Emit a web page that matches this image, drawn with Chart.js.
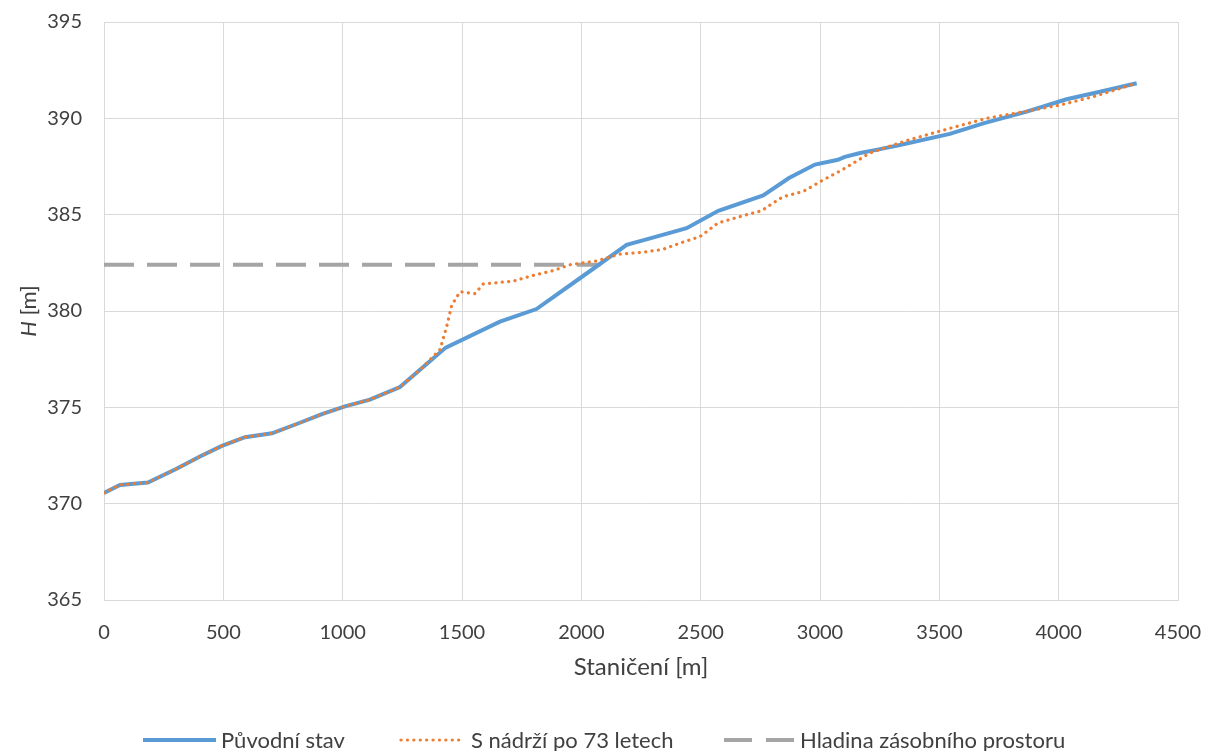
<!DOCTYPE html>
<html>
<head>
<meta charset="utf-8">
<script src="https://cdn.jsdelivr.net/npm/chart.js@4"></script>
<style>
  html, body { margin: 0; padding: 0; background: #fff; }
  #wrap { position: relative; width: 1206px; height: 751px; overflow: hidden; }
  .leg { position: absolute; top: 727px; height: 26px; font: 22px Lato, "Open Sans", sans-serif; color: #404040; line-height: 26px; white-space: nowrap; }
  .leg svg { position: absolute; top: 0; }
  .leg span { position: absolute; top: 0; }
</style>
</head>
<body>
<div id="wrap">
  <canvas id="chart" width="1206" height="751"></canvas>
  <div class="leg" style="left:0">
    <svg style="left:140px" width="80" height="26"><line x1="3" y1="13" x2="76" y2="13" stroke="#5B9BD5" stroke-width="4"/></svg>
    <span style="left:221px">Původní stav</span>
    <svg style="left:398px" width="70" height="26"><line x1="3" y1="13" x2="62" y2="13" stroke="#ED7D31" stroke-width="3.2" stroke-linecap="round" stroke-dasharray="0.1 6.3"/></svg>
    <span style="left:471px">S nádrží po 73 letech</span>
    <svg style="left:722px" width="76" height="26"><line x1="2" y1="13" x2="72" y2="13" stroke="#A5A5A5" stroke-width="4" stroke-dasharray="28 14"/></svg>
    <span style="left:800px">Hladina zásobního prostoru</span>
  </div>
</div>
<script>
// stationing [m] and water level H [m]
const origX = [0, 67, 184, 302, 402, 494, 591, 704, 821, 913, 1010, 1114, 1240, 1324, 1432, 1659, 1812, 1994, 2190, 2288, 2441, 2574, 2762, 2870, 2979, 3075, 3104, 3168, 3252, 3335, 3544, 3684, 3866, 4033, 4173, 4327];
const origH = [370.56, 370.97, 371.1, 371.8, 372.45, 373.0, 373.45, 373.65, 374.2, 374.65, 375.05, 375.4, 376.05, 376.95, 378.1, 379.45, 380.1, 381.7, 383.43, 383.77, 384.3, 385.2, 386.0, 386.9, 387.6, 387.85, 388.0, 388.2, 388.4, 388.62, 389.19, 389.74, 390.35, 390.99, 391.38, 391.82];

const resX = [0, 67, 184, 302, 402, 494, 591, 704, 821, 913, 1010, 1114, 1240, 1324, 1408, 1436, 1457, 1492, 1554, 1589, 1715, 1799, 1883, 1953, 2064, 2161, 2258, 2342, 2420, 2497, 2573, 2693, 2755, 2803, 2845, 2929, 3006, 3096, 3209, 3356, 3544, 3698, 3893, 4006, 4144, 4327];
const resH = [370.56, 370.97, 371.1, 371.8, 372.45, 373.0, 373.45, 373.65, 374.2, 374.65, 375.05, 375.4, 376.05, 376.95, 378.0, 379.2, 380.3, 381.0, 380.9, 381.4, 381.55, 381.85, 382.1, 382.4, 382.6, 382.95, 383.05, 383.2, 383.55, 383.86, 384.57, 385.0, 385.2, 385.6, 385.93, 386.2, 386.75, 387.35, 388.2, 388.82, 389.48, 390.0, 390.43, 390.69, 391.12, 391.82];

const levelX = [0, 2080];
const levelH = [382.4, 382.4];

const toPoints = (xs, ys) => xs.map((x, i) => ({ x: x, y: ys[i] }));

const FONT = 'Lato, "Open Sans", sans-serif';
const TEXT = '#404040';

// y axis title with italic H
const yTitle = {
  id: 'yTitle',
  afterDraw(chart) {
    const ctx = chart.ctx;
    const area = chart.chartArea;
    ctx.save();
    ctx.translate(29, (area.top + area.bottom) / 2);
    ctx.rotate(-Math.PI / 2);
    ctx.fillStyle = TEXT;
    ctx.textBaseline = 'middle';
    ctx.textAlign = 'left';
    ctx.font = 'italic 22px ' + FONT;
    const w1 = ctx.measureText('H').width;
    ctx.font = '22px ' + FONT;
    const w2 = ctx.measureText(' [m]').width;
    const x = -(w1 + w2) / 2;
    ctx.font = 'italic 22px ' + FONT;
    ctx.fillText('H', x, 0);
    ctx.font = '22px ' + FONT;
    ctx.fillText(' [m]', x + w1, 0);
    ctx.restore();
  }
};

new Chart(document.getElementById('chart'), {
  type: 'line',
  data: {
    datasets: [
      {
        label: 'Původní stav',
        data: toPoints(origX, origH),
        borderColor: '#5B9BD5',
        backgroundColor: '#5B9BD5',
        borderWidth: 4,
        pointRadius: 0,
        tension: 0,
        order: 2
      },
      {
        label: 'S nádrží po 73 letech',
        data: toPoints(resX, resH),
        borderColor: '#ED7D31',
        backgroundColor: '#ED7D31',
        borderWidth: 3.2,
        borderDash: [0.1, 6.3],
        borderCapStyle: 'round',
        pointRadius: 0,
        tension: 0,
        order: 1
      },
      {
        label: 'Hladina zásobního prostoru',
        data: toPoints(levelX, levelH),
        borderColor: '#A5A5A5',
        backgroundColor: '#A5A5A5',
        borderWidth: 4,
        borderDash: [30, 13],
        pointRadius: 0,
        tension: 0,
        order: 3
      }
    ]
  },
  options: {
    responsive: false,
    animation: false,
    layout: { padding: { left: 0, right: 0, top: 0, bottom: 69 } },
    plugins: {
      legend: { display: false },
      tooltip: { enabled: false }
    },
    scales: {
      x: {
        type: 'linear',
        min: 0,
        max: 4500,
        afterFit(scale) { scale.height = 82; scale.paddingLeft = 0; scale.paddingRight = 28; },
        ticks: { stepSize: 500, color: TEXT, padding: 21, maxRotation: 0, font: { family: FONT, size: 20 }, callback: v => String(v) },
        grid: { color: '#D9D9D9', lineWidth: 1, drawTicks: false },
        border: { color: '#D9D9D9' },
        title: { display: true, text: 'Staničení [m]', color: TEXT, padding: { top: 8, bottom: 0 }, font: { family: FONT, size: 24 } }
      },
      y: {
        min: 365,
        max: 395,
        afterFit(scale) { scale.width = 104; scale.paddingTop = 22; scale.paddingBottom = 0; },
        ticks: { stepSize: 5, color: TEXT, padding: 22, font: { family: FONT, size: 20 }, callback: v => String(v) },
        grid: { color: '#D9D9D9', lineWidth: 1, drawTicks: false },
        border: { color: '#D9D9D9' }
      }
    }
  },
  plugins: [yTitle]
});
</script>
</body>
</html>
